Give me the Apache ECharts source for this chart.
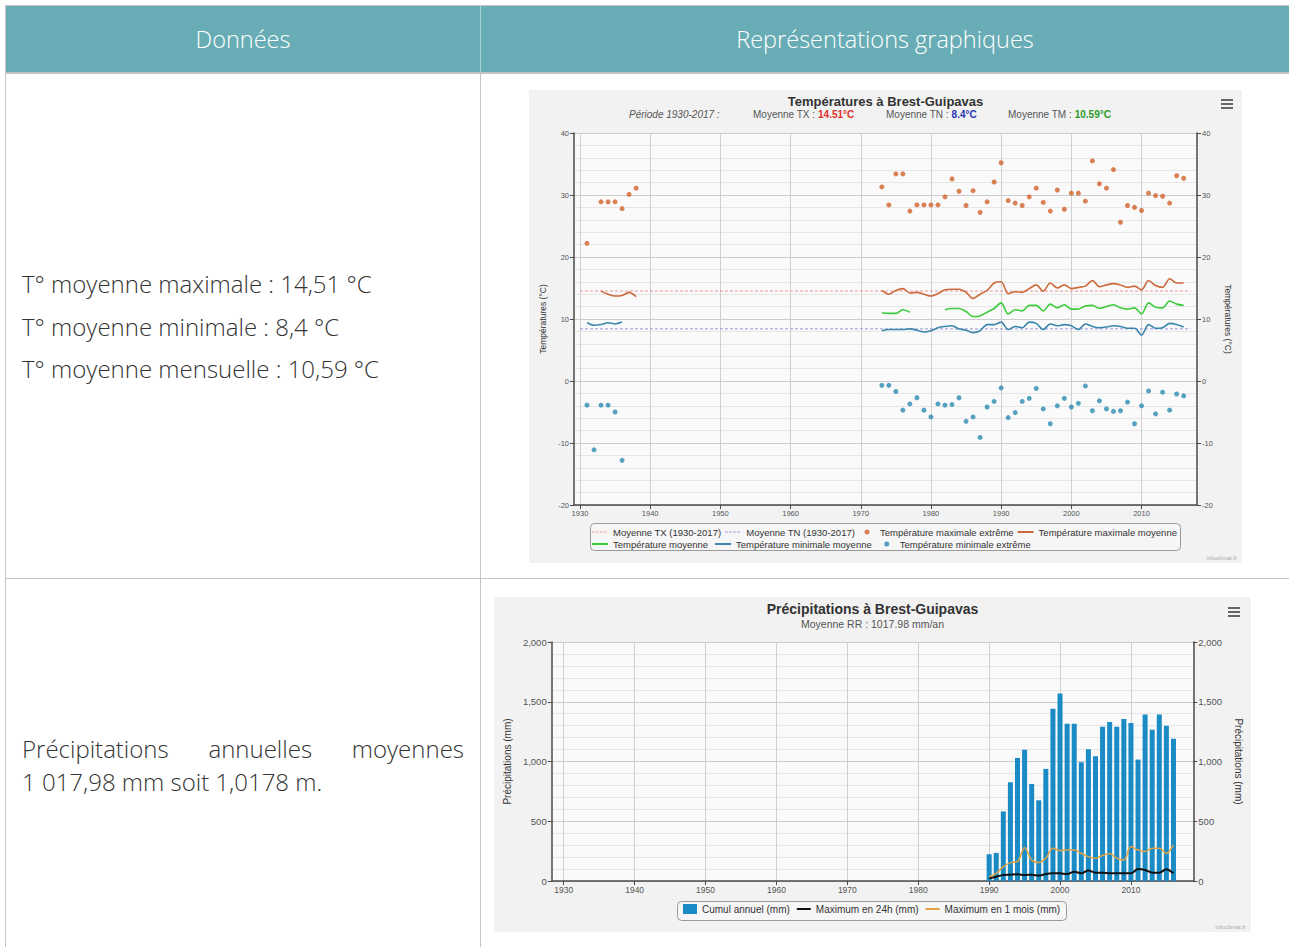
<!DOCTYPE html>
<html lang="fr">
<head>
<meta charset="utf-8">
<title>Brest-Guipavas</title>
<script src="https://cdn.jsdelivr.net/npm/echarts@6.0.0/dist/echarts.min.js"></script>
<style>
html,body{margin:0;padding:0;width:1289px;height:947px;overflow:hidden;background:#fff;}
body{position:relative;font-family:'Open Sans',sans-serif;color:#3b3b3b;}
.ln{position:absolute;background:#c4c4c4;}
.hdr{position:absolute;top:6px;height:66px;background:#68adb5;color:#fff;font-size:23.5px;font-weight:300;display:flex;align-items:center;justify-content:center;}
.txt{position:absolute;left:22px;font-size:24px;font-weight:300;line-height:30px;white-space:nowrap;color:#333;}
.chart{position:absolute;}
</style>
</head>
<body>
<div class="hdr" style="left:6px;width:474px;">Données</div>
<div class="hdr" style="left:481px;width:808px;">Représentations graphiques</div>
<div class="ln" style="left:5px;top:5px;width:1284px;height:1px"></div>
<div class="ln" style="left:5px;top:5px;width:1px;height:942px"></div>
<div class="ln" style="left:480px;top:72px;width:1px;height:875px"></div>
<div class="ln" style="left:480px;top:6px;width:1px;height:66px;background:#a9d0d5"></div>
<div class="ln" style="left:5px;top:72px;width:1284px;height:2px"></div>
<div class="ln" style="left:5px;top:578px;width:1284px;height:1px"></div>

<div class="txt" style="top:269px">T° moyenne maximale : 14,51 °C</div>
<div class="txt" style="top:312px">T° moyenne minimale : 8,4 °C</div>
<div class="txt" style="top:354px">T° moyenne mensuelle : 10,59 °C</div>
<div class="txt" style="top:734px;width:442px;text-align:justify;text-align-last:justify;">Précipitations annuelles moyennes</div>
<div class="txt" style="top:767px">1 017,98 mm soit 1,0178 m.</div>

<div id="c1" class="chart" style="left:529px;top:90px;width:713px;height:473px"></div>
<div id="c2" class="chart" style="left:494px;top:597px;width:757px;height:335px"></div>

<script>
// ---------- Data: temperatures ----------
const periodStart = 1930;
const periodEnd = 2017;
const meanTX = 14.51;
const meanTN = 8.4;
const meanTM = 10.59;
const xTicks = [1930, 1940, 1950, 1960, 1970, 1980, 1990, 2000, 2010];

const txExtreme = [[1931,22.2],[1933,28.9],[1934,28.9],[1935,28.9],[1936,27.8],[1937,30.1],[1938,31.1],
  [1973,31.3],[1974,28.4],[1975,33.4],[1976,33.4],[1977,27.4],[1978,28.4],[1979,28.4],[1980,28.4],[1981,28.4],
  [1982,29.7],[1983,32.6],[1984,30.6],[1985,28.3],[1986,30.7],[1987,27.2],[1988,28.9],[1989,32.1],[1990,35.2],
  [1991,29.1],[1992,28.7],[1993,28.3],[1994,29.7],[1995,31.1],[1996,28.8],[1997,27.4],[1998,30.8],[1999,27.7],
  [2000,30.3],[2001,30.3],[2002,29.0],[2003,35.5],[2004,31.8],[2005,31.1],[2006,34.1],[2007,25.6],[2008,28.3],
  [2009,28.0],[2010,27.5],[2011,30.3],[2012,29.9],[2013,29.8],[2014,28.7],[2015,33.1],[2016,32.7]];

const tnExtreme = [[1931,-3.9],[1932,-11.1],[1933,-3.9],[1934,-3.9],[1935,-5.0],[1936,-12.8],
  [1973,-0.7],[1974,-0.7],[1975,-1.7],[1976,-4.7],[1977,-3.7],[1978,-2.7],[1979,-4.7],[1980,-5.8],[1981,-3.7],
  [1982,-3.9],[1983,-3.8],[1984,-2.7],[1985,-6.5],[1986,-5.8],[1987,-9.1],[1988,-4.2],[1989,-3.3],[1990,-1.1],
  [1991,-5.9],[1992,-5.1],[1993,-3.3],[1994,-2.8],[1995,-1.2],[1996,-4.5],[1997,-6.9],[1998,-4.0],[1999,-2.8],
  [2000,-4.2],[2001,-3.6],[2002,-0.8],[2003,-4.8],[2004,-3.2],[2005,-4.5],[2006,-4.9],[2007,-4.8],[2008,-3.4],
  [2009,-6.9],[2010,-4.0],[2011,-1.6],[2012,-5.3],[2013,-1.8],[2014,-4.7],[2015,-2.1],[2016,-2.4]];

const txMean = [[1933,14.5],[1934,14.0],[1935,13.7],[1936,13.8],[1937,14.3],[1938,13.6],[1939,'-'],
  [1973,14.6],[1974,14.0],[1975,14.6],[1976,14.9],[1977,14.2],[1978,14.3],[1979,14.0],[1980,13.7],[1981,14.1],
  [1982,14.7],[1983,14.8],[1984,14.8],[1985,14.3],[1986,13.3],[1987,14.0],[1988,14.6],[1989,15.8],[1990,16.0],
  [1991,14.1],[1992,14.4],[1993,14.3],[1994,14.9],[1995,15.5],[1996,14.5],[1997,15.8],[1998,15.0],[1999,15.5],
  [2000,14.9],[2001,15.1],[2002,15.3],[2003,16.2],[2004,15.2],[2005,15.5],[2006,15.7],[2007,15.5],[2008,15.1],
  [2009,15.3],[2010,14.7],[2011,16.2],[2012,15.4],[2013,15.1],[2014,16.5],[2015,15.8],[2016,15.8]];

const tmMean = [[1973,11.0],[1974,10.9],[1975,10.9],[1976,11.5],[1977,11.1],[1978,'-'],
  [1982,11.5],[1983,11.7],[1984,11.7],[1985,11.2],[1986,10.4],[1987,10.5],[1988,11.1],[1989,11.7],[1990,12.6],
  [1991,10.8],[1992,11.5],[1993,11.3],[1994,12.2],[1995,12.2],[1996,11.3],[1997,12.4],[1998,11.8],[1999,12.3],
  [2000,11.6],[2001,11.6],[2002,12.1],[2003,12.2],[2004,11.7],[2005,12.0],[2006,12.3],[2007,11.8],[2008,11.6],
  [2009,11.8],[2010,10.8],[2011,12.6],[2012,11.9],[2013,11.8],[2014,12.9],[2015,12.4],[2016,12.2]];

const tnMean = [[1931,9.4],[1932,9.0],[1933,9.1],[1934,9.4],[1935,9.2],[1936,9.5],[1937,'-'],
  [1973,8.1],[1974,8.3],[1975,8.3],[1976,8.3],[1977,8.4],[1978,8.2],[1979,7.9],[1980,8.1],[1981,8.6],
  [1982,8.8],[1983,8.9],[1984,8.4],[1985,8.2],[1986,7.8],[1987,8.1],[1988,9.1],[1989,9.1],[1990,9.5],
  [1991,8.3],[1992,8.8],[1993,8.6],[1994,9.5],[1995,9.3],[1996,8.3],[1997,9.2],[1998,8.9],[1999,9.1],
  [2000,8.9],[2001,8.3],[2002,9.2],[2003,8.8],[2004,8.6],[2005,8.7],[2006,8.9],[2007,8.8],[2008,8.5],
  [2009,8.5],[2010,7.4],[2011,9.1],[2012,8.5],[2013,8.6],[2014,9.3],[2015,9.1],[2016,8.7]];

// ---------- Data: precipitation ----------
const meanRR = 1017.98;
const rrYears = [1990,1991,1992,1993,1994,1995,1996,1997,1998,1999,2000,2001,2002,2003,2004,2005,2006,2007,2008,2009,2010,2011,2012,2013,2014,2015,2016];
const rrAnnual = [224,235,582,826,1030,1098,812,675,938,1442,1568,1316,1316,994,1103,1044,1291,1330,1291,1355,1322,1016,1394,1266,1394,1299,1190];
const rrMax24h = [22,36,50,53,56,50,53,45,59,64,64,59,78,64,87,70,70,64,64,64,64,100,92,70,70,98,64];
const rrMax1Month = [36,64,120,154,162,280,176,154,190,274,255,260,260,232,204,190,214,230,190,176,288,260,246,274,274,232,302];

// ---------- Charts ----------
const FONT = "'Liberation Sans', Arial, sans-serif";
const AX = '#4a4a4a';

// legend icon shapes (bounding box w x h kept by corner points)
function boxPath(w, h, body) {
  return 'path://M0,0L0.01,0' + body + 'M' + (w - 0.01) + ',' + h + 'L' + w + ',' + h;
}
function lineIcon(w, h, t) {
  return boxPath(w, h, 'M0,' + (h / 2 - t / 2) + 'H' + w + 'V' + (h / 2 + t / 2) + 'H0Z');
}
function dashIcon(w, h, t, dash, gap) {
  let s = '';
  for (let x = 0; x < w; x += dash + gap) {
    const e = Math.min(w, x + dash);
    s += 'M' + x + ',' + (h / 2 - t / 2) + 'H' + e + 'V' + (h / 2 + t / 2) + 'H' + x + 'Z';
  }
  return boxPath(w, h, s);
}
function dotIcon(w, h, r) {
  const cx = w / 2, cy = h / 2;
  return boxPath(w, h, 'M' + (cx - r) + ',' + cy + 'A' + r + ',' + r + ' 0 1,0 ' + (cx + r) + ',' + cy +
    'A' + r + ',' + r + ' 0 1,0 ' + (cx - r) + ',' + cy + 'Z');
}
const noBorder = {borderWidth:0};

function menuIcon(x, y) {
  return [0, 4, 8].map(d => ({type:'rect', left:x, top:y + d, shape:{width:12, height:2}, style:{fill:'#666'}}));
}

function yAxisDef(pos, opts, lblSize) {
  const left = pos === 'left';
  return Object.assign({
    type:'value', position:pos,
    axisLine:{show:true, lineStyle:{color:AX, width:1.5}},
    axisTick:{show:true, length:4, lineStyle:{color:AX}},
    axisLabel:{fontSize:lblSize, color:'#555', margin:5, fontFamily:FONT},
    nameLocation:'middle', nameRotate: left ? 90 : -90,
    nameTextStyle:{fontSize:lblSize + 1, color:'#333', fontFamily:FONT},
    splitLine:{show:left, lineStyle:{color:'#cbcbcb', width:1}},
    minorTick:{show:false, splitNumber:5},
    minorSplitLine:{show:left, lineStyle:{color:'#e6e6e6', width:1}}
  }, opts);
}

function xAxisDef(min, max, lblSize) {
  return {
    type:'value', min:min, max:max,
    axisLine:{show:true, onZero:false, lineStyle:{color:AX, width:1.5}},
    axisTick:{show:true, length:4, customValues:xTicks, lineStyle:{color:AX}},
    axisLabel:{fontSize:lblSize, color:'#555', margin:4, fontFamily:FONT, customValues:xTicks, formatter: v => String(v)},
    splitLine:{show:true, lineStyle:{color:'#d0d0d0', width:1}}
  };
}

function subTitle(label, value, color, left, size) {
  return {text:'{n|' + label + '}{v|' + value + '°C}', left:left, top:19, padding:0,
    textStyle:{rich:{n:{fontSize:size, color:'#555', fontWeight:'normal', fontFamily:FONT},
                     v:{fontSize:size, color:color, fontWeight:'bold', fontFamily:FONT}}}};
}

// ----- Chart 1 : températures -----
const c1 = echarts.init(document.getElementById('c1'), null, {renderer:'svg'});
const legTxt1 = {fontSize:9.5, color:'#333', fontFamily:FONT};
const W1 = 16, H1 = 8;
c1.setOption({
  animation:false,
  backgroundColor:'#f2f2f2',
  textStyle:{fontFamily:FONT},
  title:[
    {text:'Températures à Brest-Guipavas', left:'center', top:5, padding:0, textStyle:{fontSize:13, fontWeight:'bold', color:'#333', fontFamily:FONT}},
    {text:'Période ' + periodStart + '-' + periodEnd + ' :', left:100, top:19, padding:0, textStyle:{fontSize:10, fontStyle:'italic', fontWeight:'normal', color:'#555', fontFamily:FONT}},
    subTitle('Moyenne TX : ', meanTX, '#e0302a', 224, 10),
    subTitle('Moyenne TN : ', meanTN, '#2a35b5', 357, 10),
    subTitle('Moyenne TM : ', meanTM, '#2a9a2a', 479, 10),
    {text:'infoclimat.fr', right:5, bottom:2, padding:0, textStyle:{fontSize:6, color:'#aaa', fontWeight:'normal', fontFamily:FONT}}
  ],
  graphic: menuIcon(692, 9).concat([
    {type:'rect', left:61, top:433, shape:{width:590, height:27, r:4}, style:{fill:'rgba(255,255,255,0.35)', stroke:'#9a9a9a', lineWidth:1}, z:-1}
  ]),
  grid:{left:45, right:45, top:43, bottom:58, show:true, backgroundColor:'#fafafa', borderWidth:0},
  legend:[
    {left:63, top:437, itemWidth:W1, itemHeight:H1, itemGap:4, padding:0, textStyle:legTxt1,
     data:[
       {name:'Moyenne TX (1930-2017)', icon:dashIcon(W1, H1, 1, 2.5, 1.5), itemStyle:noBorder},
       {name:'Moyenne TN (1930-2017)', icon:dashIcon(W1, H1, 1, 2.5, 1.5), itemStyle:noBorder},
       {name:'Température maximale extrême', icon:dotIcon(W1, H1, 2.5), itemStyle:noBorder},
       {name:'Température maximale moyenne', icon:lineIcon(W1, H1, 2), itemStyle:noBorder}]},
    {left:63, top:449, itemWidth:W1, itemHeight:H1, itemGap:7, padding:0, textStyle:legTxt1,
     data:[
       {name:'Température moyenne', icon:lineIcon(W1, H1, 2), itemStyle:noBorder},
       {name:'Température minimale moyenne', icon:lineIcon(W1, H1, 2), itemStyle:noBorder},
       {name:'Température minimale extrême', icon:dotIcon(W1, H1, 2.5), itemStyle:noBorder}]}
  ],
  xAxis: xAxisDef(1929.15, 2017.9, 7.5),
  yAxis:[
    yAxisDef('left', {min:-20, max:40, interval:10, name:'Températures (°C)', nameGap:22}, 7.5),
    yAxisDef('right', {min:-20, max:40, interval:10, name:'Températures (°C)', nameGap:24}, 7.5)
  ],
  series:[
    {name:'Moyenne TX (1930-2017)', type:'line', data:[[periodStart, meanTX], [periodEnd, meanTX]], symbol:'none',
     lineStyle:{color:'#e99595', width:1, type:[3,2]}, itemStyle:{color:'#e99595'}, z:1},
    {name:'Moyenne TN (1930-2017)', type:'line', data:[[periodStart, meanTN], [periodEnd, meanTN]], symbol:'none',
     lineStyle:{color:'#9393d8', width:1, type:[3,2]}, itemStyle:{color:'#9393d8'}, z:1},
    {name:'Température maximale extrême', type:'scatter', data:txExtreme, symbolSize:5, itemStyle:{color:'#d2622c'}},
    {name:'Température maximale moyenne', type:'line', data:txMean, symbol:'none', smooth:0.3, connectNulls:false,
     lineStyle:{color:'#cc6a3c', width:1.6}, itemStyle:{color:'#cc6a3c'}},
    {name:'Température moyenne', type:'line', data:tmMean, symbol:'none', smooth:0.3, connectNulls:false,
     lineStyle:{color:'#3ccb3c', width:1.6}, itemStyle:{color:'#3ccb3c'}},
    {name:'Température minimale moyenne', type:'line', data:tnMean, symbol:'none', smooth:0.3, connectNulls:false,
     lineStyle:{color:'#3a86ad', width:1.6}, itemStyle:{color:'#3a86ad'}},
    {name:'Température minimale extrême', type:'scatter', data:tnExtreme, symbolSize:5, itemStyle:{color:'#2a8cb2'}}
  ]
});

// ----- Chart 2 : précipitations -----
const c2 = echarts.init(document.getElementById('c2'), null, {renderer:'svg'});
const pairs = arr => rrYears.map((y, i) => [y, arr[i]]);
const fmtThousands = v => v.toLocaleString('en-US');
const W2 = 14, H2 = 10;
c2.setOption({
  animation:false,
  backgroundColor:'#f2f2f2',
  textStyle:{fontFamily:FONT},
  title:[
    {text:'Précipitations à Brest-Guipavas', left:'center', top:5, padding:0, textStyle:{fontSize:14, fontWeight:'bold', color:'#333', fontFamily:FONT}},
    {text:'Moyenne RR : ' + meanRR + ' mm/an', left:'center', top:21, padding:0, textStyle:{fontSize:10.5, fontWeight:'normal', color:'#555', fontFamily:FONT}},
    {text:'infoclimat.fr', right:5, bottom:2, padding:0, textStyle:{fontSize:6, color:'#aaa', fontWeight:'normal', fontFamily:FONT}}
  ],
  graphic: menuIcon(734, 10).concat([
    {type:'rect', left:183, top:304, shape:{width:389, height:19, r:4}, style:{fill:'rgba(255,255,255,0.35)', stroke:'#9a9a9a', lineWidth:1}, z:-1}
  ]),
  grid:{left:55, right:55, top:45, bottom:51, show:true, backgroundColor:'#fafafa', borderWidth:0},
  legend:{left:189, top:307, itemWidth:W2, itemHeight:H2, itemGap:7, padding:0, textStyle:{fontSize:10, color:'#333', fontFamily:FONT},
    data:[
      {name:'Cumul annuel (mm)', icon:'rect', itemStyle:noBorder},
      {name:'Maximum en 24h (mm)', icon:lineIcon(W2, H2, 2), itemStyle:noBorder},
      {name:'Maximum en 1 mois (mm)', icon:lineIcon(W2, H2, 2), itemStyle:noBorder}]},
  xAxis: xAxisDef(1928.3, 2018.8, 8.5),
  yAxis:[
    yAxisDef('left', {min:0, max:2000, interval:500, name:'Précipitations (mm)', nameGap:36,
      axisLabel:{fontSize:9.5, color:'#555', margin:5, fontFamily:FONT, formatter:fmtThousands}}, 9),
    yAxisDef('right', {min:0, max:2000, interval:500, name:'Précipitations (mm)', nameGap:36,
      axisLabel:{fontSize:9.5, color:'#555', margin:5, fontFamily:FONT, formatter:fmtThousands}}, 9)
  ],
  series:[
    {name:'Cumul annuel (mm)', type:'bar', data:pairs(rrAnnual), barWidth:5, itemStyle:{color:'#1a8bc4'}},
    {name:'Maximum en 24h (mm)', type:'line', data:pairs(rrMax24h), symbol:'none', smooth:0.3,
     lineStyle:{color:'#111', width:2}, itemStyle:{color:'#111'}},
    {name:'Maximum en 1 mois (mm)', type:'line', data:pairs(rrMax1Month), symbol:'none', smooth:0.3,
     lineStyle:{color:'#e0a243', width:1.5}, itemStyle:{color:'#e0a243'}}
  ]
});
</script>
</body>
</html>
